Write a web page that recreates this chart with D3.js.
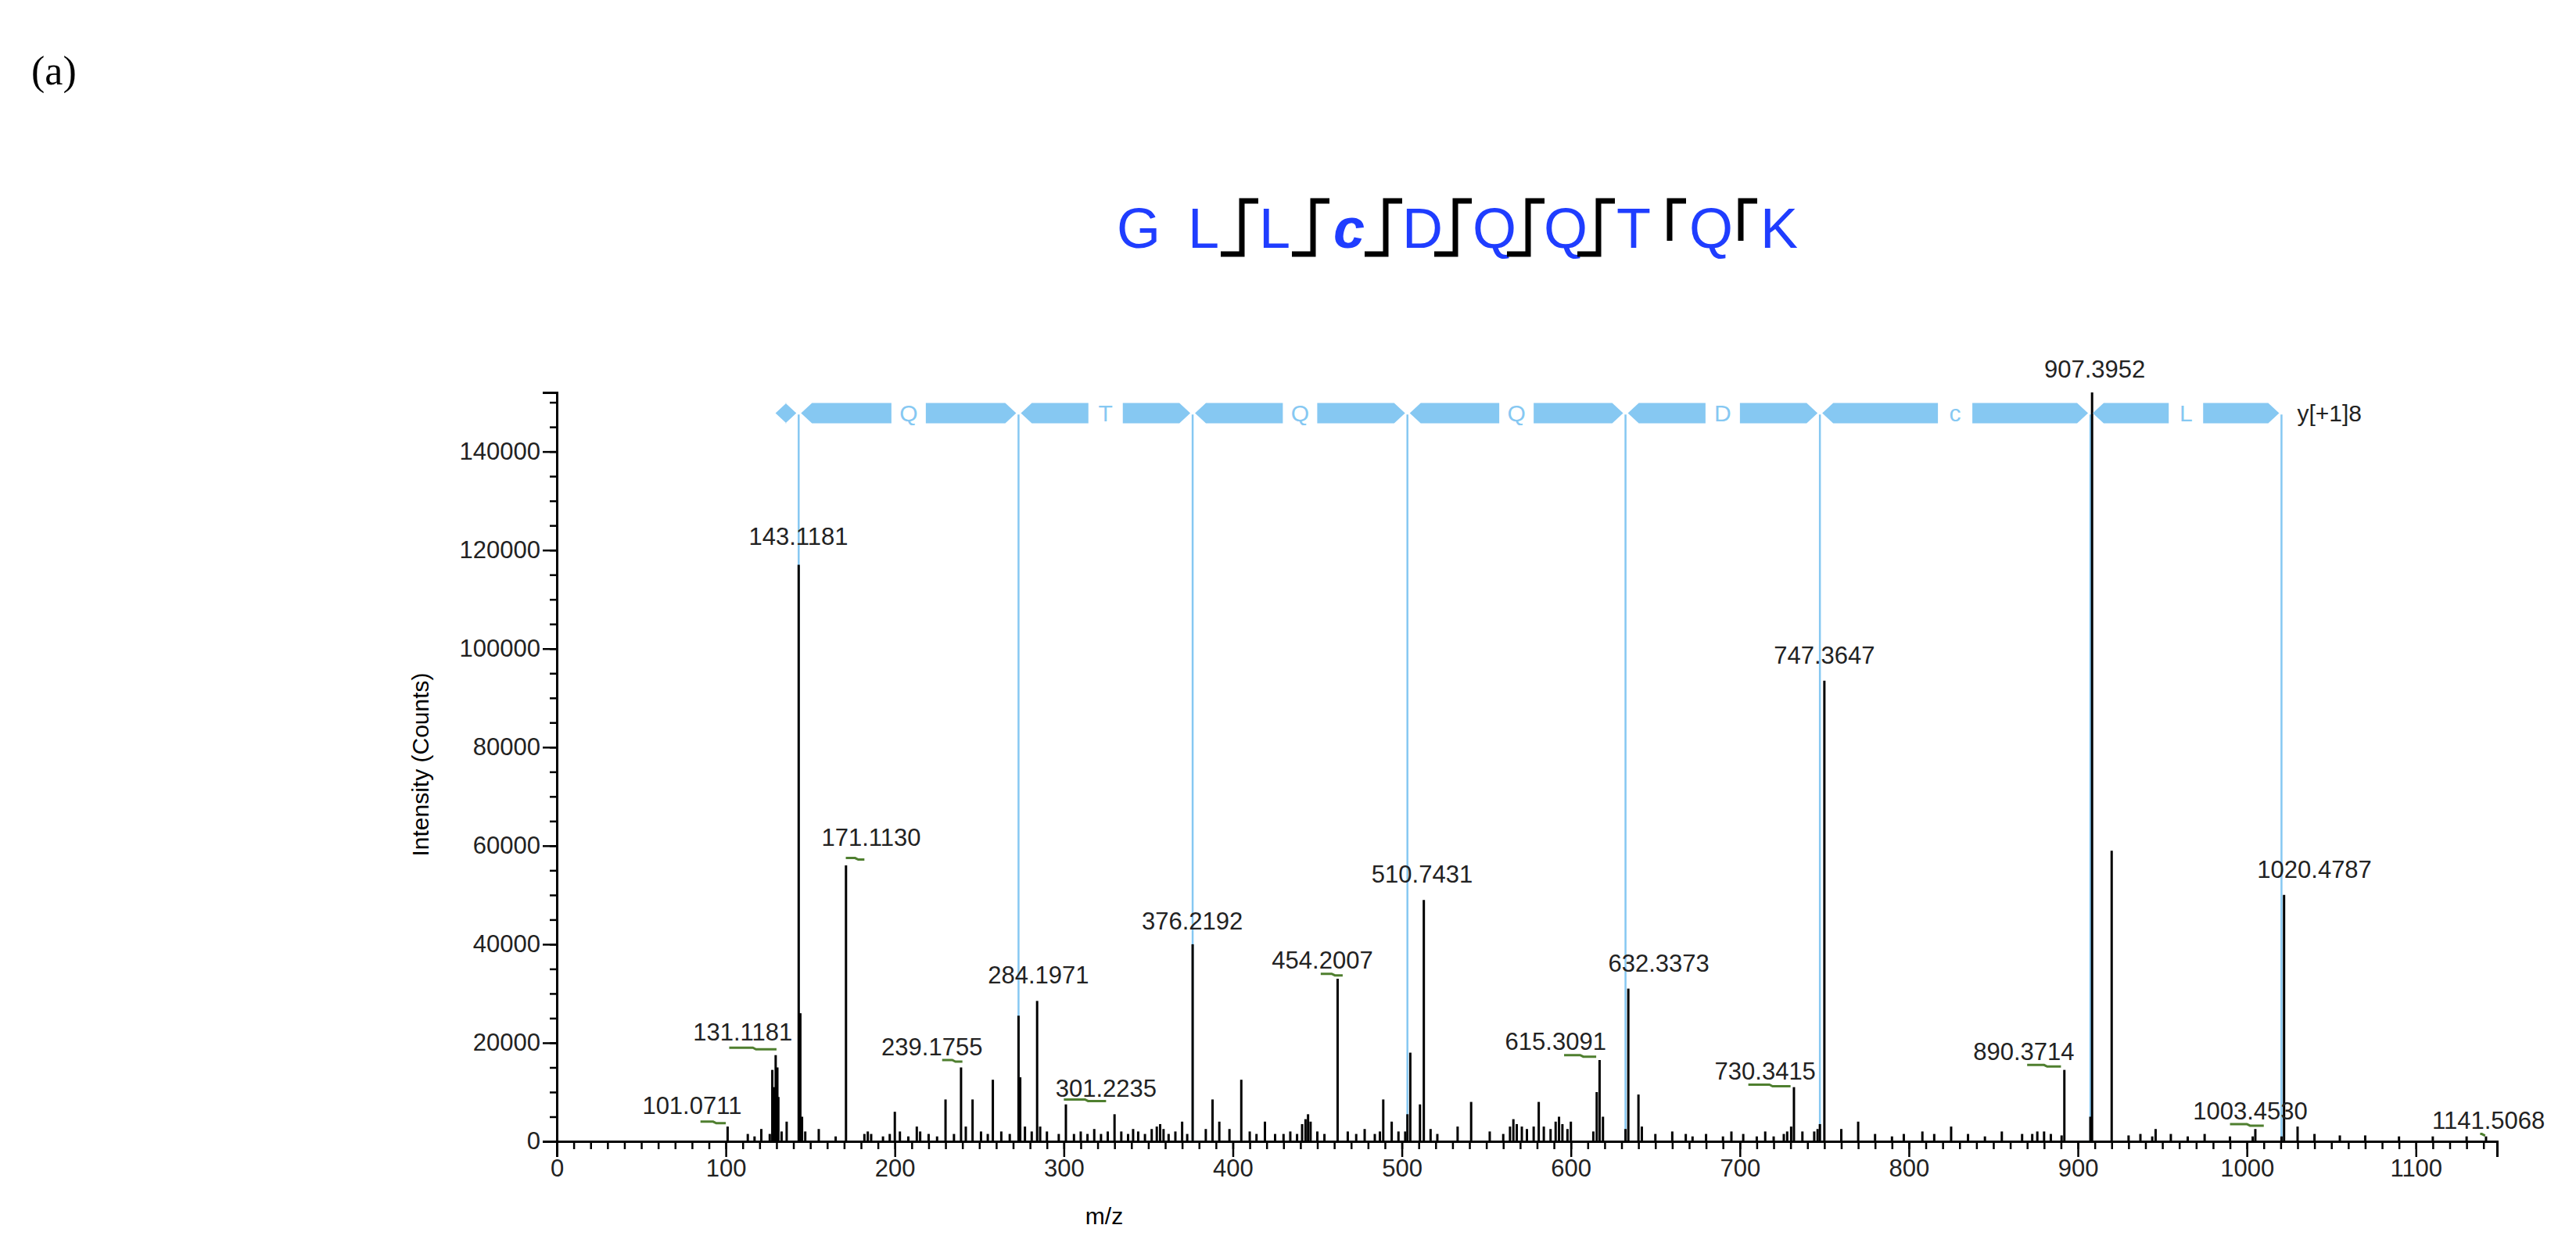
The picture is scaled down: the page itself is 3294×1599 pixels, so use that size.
<!DOCTYPE html>
<html><head><meta charset="utf-8">
<script src="https://cdn.jsdelivr.net/npm/d3@7"></script>
<style>body{margin:0;background:#fff}</style>
</head><body><svg id="c" width="3294" height="1599"></svg>
<script>
// ---- data ----
const peakMz = [101.07,113,117,121,126,127.5,128.5,129.5,130.5,131.1,133,136,143.12,144.1,145.1,147,155,165,171.11,182,184,186,193,197,200,203,208,213,215,220,225,230,235,239.18,242,246,251,255,258,263,268,273.2,274.2,277,281,284.2,286,290,297,301.22,306,310,314,318,322,326,330,334,338,341,344,348,352,355,357,359,362,366,370,373,376.22,384,388,392,398,405,410,414,419,425,430,434,438,441,443,444.5,446,450,454.2,462,468,473,478,484,487,489,494,498,502,503.3,505,510.74,513,517,521,533,541,552,560,564,566,568,571,574,578,581,584,588,591,593,595,598,600,613.3,615.31,617,619,632.34,634,640,642,650,660,668,672,680,690,695,702,710,715,720,726,728,730.34,732,737,744,746,747.36,750,760,770,780,790,797,808,815,825,835,845,855,867,873,876,880,884,890.37,892,907.4,908.4,920,930,937,944,946,955,965,975,990,1003.45,1005,1020.48,1022,1030,1040,1055,1070,1090,1110,1130,1141.5];
const peakInt = [3000,1500,1000,2500,1500,14500,11000,17500,15000,9000,2000,4000,117000,26000,5000,2000,2500,1000,56000,1500,2000,1500,1000,1500,6000,2000,1000,3000,2000,1500,1000,8500,1500,15000,3000,8500,2000,1500,12500,2000,1500,25500,13000,3000,2000,28500,3000,2000,1500,7500,1500,2000,1500,2500,1500,2000,5500,2000,1500,2500,2000,1500,2500,3000,3500,2500,1500,2000,4000,1500,40000,2500,8500,4000,2500,12500,2000,1500,4000,1500,1500,2000,1500,3500,4500,5500,4000,2000,1500,33000,2000,1500,2500,1500,2000,8500,4000,2000,2000,5500,18000,7500,49000,2500,1500,3000,8000,2000,1500,3000,4500,3500,3000,2500,3000,8000,3000,2500,4000,5000,3500,2500,4000,2000,10000,16500,5000,2500,31000,9500,3000,1500,2000,1500,1000,1500,1000,2000,1500,1000,2000,1000,1500,2000,3000,11000,2000,2000,2500,3500,93500,2500,4000,1500,1000,1500,2000,1500,3000,1500,1000,2000,1500,1500,2000,2000,1500,1200,14500,5000,152000,59000,1200,1500,1000,2500,1500,1000,1500,1000,1000,2500,1000,50000,3000,1500,1200,1200,1000,1000,1000,1000,1000];
const lblText = ["101.0711","131.1181","143.1181","171.1130","239.1755","284.1971","301.2235","376.2192","454.2007","510.7431","615.3091","632.3373","730.3415","747.3647","890.3714","907.3952","1003.4530","1020.4787","1141.5068"];
const lblCenter = [80,110,143,186,222,285,325,376,453,512,591,652,715,750,868,910,1002,1040,1143];
const lblLevel = [5500,20500,121000,60000,17500,32000,9000,43000,35000,52500,18500,34500,12500,97000,16500,155000,4500,53500,2500];
const lblGreen = [[85,100,4000],[102,130,19000],null,[171,182,57500],[228,240,16500],null,[300,325,8500],null,[452,465,34000],null,[596,615,17500],null,[705,730,11500],null,[870,890,15500],null,[990,1010,3500],null,[1138,1140,1500]];
const ladderMz = [143.12,273.2,376.22,503.3,632.34,747.36,907.4,1020.48];
const ladderRes = ["Q","T","Q","Q","D","c","L"];
const ionName = "y[+1]8";
const seqLetters = ["G","L","L","c","D","Q","Q","T","Q","K"];
const xTicks = d3.range(0,1101,100);
const yTicks = d3.range(0,140001,20000);

// ---- layout ----
const svg = d3.select("#c");
const X = d3.scaleLinear().domain([0,1148]).range([712,3193]);
const Y = d3.scaleLinear().domain([0,152000]).range([1460,502]);
const F = "'Liberation Sans', Arial, sans-serif";
const BLUE = "#86C8F2";

svg.append("text").attr("x",40).attr("y",108).attr("font-family","'Liberation Serif', serif").attr("font-size",52).text("(a)");

const seqX=[1456,1539,1630,1725,1819,1911,2002,2089,2188,2275];
svg.selectAll(".seq").data(seqLetters).join("text").attr("x",(d,i)=>seqX[i]).attr("y",317)
  .attr("text-anchor","middle").attr("font-family",F).attr("font-size",72).attr("fill","#1F3DFF")
  .attr("font-weight",d=>d==="c"?"bold":null).attr("font-style",d=>d==="c"?"italic":null).text(d=>d);
const fullBr=[1588,1679,1772,1861,1954,2044], halfBr=[2135,2226];
fullBr.forEach(b=>svg.append("path").attr("d",`M${b-27},325 H${b} V257 H${b+21}`).attr("fill","none").attr("stroke","#000").attr("stroke-width",7));
halfBr.forEach(b=>svg.append("path").attr("d",`M${b},308 V257 H${b+21}`).attr("fill","none").attr("stroke","#000").attr("stroke-width",7));

const ga = svg.append("g");
ga.append("g").attr("transform","translate(0,1460)").call(d3.axisBottom(X).tickValues(d3.range(0,1148,10)).tickSize(10).tickFormat(""));
ga.append("g").attr("transform","translate(0,1460)").call(d3.axisBottom(X).tickValues(xTicks).tickSize(20).tickFormat(d3.format("d")));
ga.append("g").attr("transform","translate(712,0)").call(d3.axisLeft(Y).tickValues(d3.range(0,152001,5000)).tickSize(9).tickFormat(""));
ga.append("g").attr("transform","translate(712,0)").call(d3.axisLeft(Y).tickValues(yTicks).tickSize(18).tickFormat(d3.format("d")));
ga.selectAll("path.domain").attr("stroke","#000").attr("stroke-width",3);
ga.selectAll(".tick line").attr("stroke","#000").attr("stroke-width",2.5);
ga.selectAll("text").attr("font-family",F).attr("font-size",31).attr("fill","#222");
svg.append("text").attr("x",1412).attr("y",1566).attr("text-anchor","middle").attr("font-family",F).attr("font-size",30).text("m/z");
svg.append("text").attr("transform","translate(548,978) rotate(-90)").attr("text-anchor","middle").attr("font-family",F).attr("font-size",30).text("Intensity (Counts)");

svg.selectAll(".lad").data(ladderMz).join("line").attr("x1",d=>X(d)).attr("x2",d=>X(d)).attr("y1",Y(147500)).attr("y2",Y(0))
  .attr("stroke",BLUE).attr("stroke-width",2.5);

svg.selectAll(".pk").data(peakMz).join("line").attr("x1",d=>X(d)).attr("x2",d=>X(d)).attr("y1",Y(0)).attr("y2",(d,i)=>Y(peakInt[i]))
  .attr("stroke","#000").attr("stroke-width",3);

const yc=Y(147800), h=13, tip=14;
const segs=[[128,ladderMz[0]]].concat(d3.pairs(ladderMz));
segs.forEach(([a,b],i)=>{
  const xa=X(a)+3, xb=X(b)-3;
  svg.append("path").attr("fill",BLUE).attr("d",
    `M${xa},${yc} L${xa+tip},${yc-h} L${xb-tip},${yc-h} L${xb},${yc} L${xb-tip},${yc+h} L${xa+tip},${yc+h} Z`);
  if(i>0){
    const m=(X(a)+X(b))/2;
    svg.append("rect").attr("x",m-22).attr("y",yc-h-1).attr("width",44).attr("height",2*h+2).attr("fill","#fff");
    svg.append("text").attr("x",m).attr("y",yc+11).attr("text-anchor","middle").attr("font-family",F).attr("font-size",30).attr("fill",BLUE).text(ladderRes[i-1]);
  }
});
svg.append("text").attr("x",X(1020.48)+20).attr("y",yc+11).attr("font-family",F).attr("font-size",30).attr("fill","#222").text(ionName);

svg.selectAll(".lb").data(lblText).join("text").attr("x",(d,i)=>X(lblCenter[i])).attr("y",(d,i)=>Y(lblLevel[i]))
  .attr("text-anchor","middle").attr("font-family",F).attr("font-size",31).attr("fill","#222").text(d=>d);
lblGreen.forEach(g=>{ if(!g) return;
  svg.append("path").attr("d",`M${X(g[0])},${Y(g[2])} H${(X(g[0])+X(g[1]))/2} L${(X(g[0])+X(g[1]))/2+4},${Y(g[2])+2} H${X(g[1])}`)
   .attr("fill","none").attr("stroke","#4F7F2F").attr("stroke-width",3);
});
</script></body></html>
